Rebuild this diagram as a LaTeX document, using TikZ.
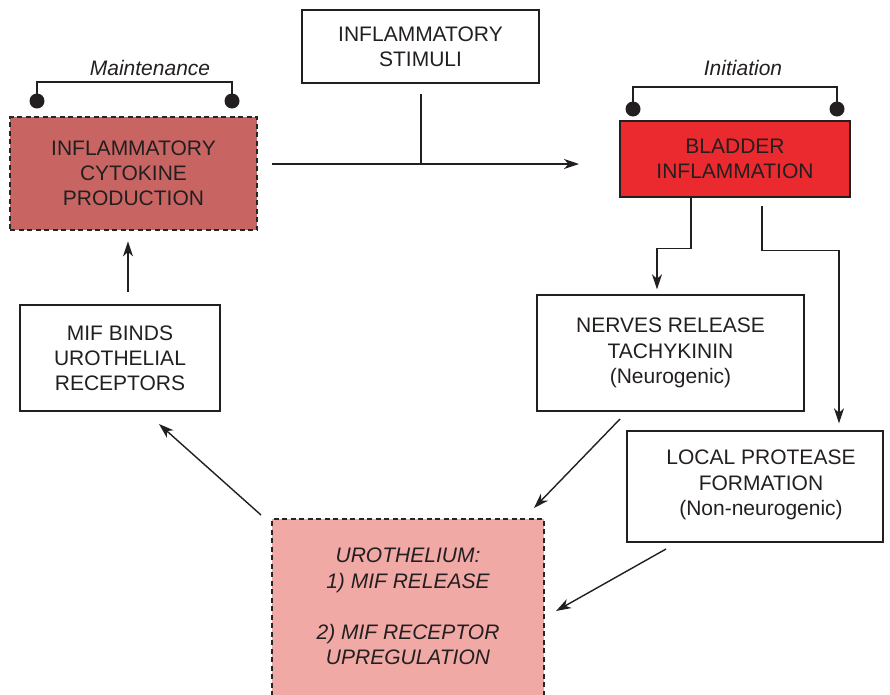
\documentclass[tikz,border=0pt]{standalone}
\usepackage{fontspec}
\setmainfont{Liberation Sans}
\usetikzlibrary{arrows.meta}
\definecolor{txt}{HTML}{231F20}
\definecolor{cytofill}{HTML}{C86563}
\definecolor{bladfill}{HTML}{EB2A2F}
\definecolor{urofill}{HTML}{F1A9A6}
\begin{document}
\begin{tikzpicture}[x=1pt,y=-1pt,
  lbl/.style={text=txt, align=center, inner sep=0pt, font=\fontsize{21}{25.2}\selectfont},
  box/.style={lbl, draw=txt, line width=1.4pt},
  dbox/.style={box, draw=black!85, line width=2.8pt, dash pattern=on 5pt off 3.5pt},
  conn/.style={draw=txt, line width=1.4pt},
  arr/.style={conn, -{Stealth[length=15pt,width=10pt,inset=4.5pt]}},
  blob/.style={circle, fill=txt, minimum size=15pt, inner sep=0pt}]
\useasboundingbox (0,0) rectangle (890,694);
\clip (0,0) rectangle (890,694);

% boxes
\node[box, minimum width=237pt, minimum height=73pt] (stim) at (420.5,46.5) {INFLAMMATORY\\STIMULI};
\node[dbox, fill=cytofill, minimum width=247pt, minimum height=113pt] (cyto) at (133.5,173.5) {INFLAMMATORY\\CYTOKINE\\PRODUCTION};
\node[box, fill=bladfill, minimum width=230pt, minimum height=76pt] (blad) at (735,159) {BLADDER\\INFLAMMATION};
\node[box, minimum width=267pt, minimum height=116pt] (nerv) at (670.5,353) {NERVES RELEASE\\TACHYKININ\\(Neurogenic)};
\node[box, minimum width=256pt, minimum height=111pt] (prot) at (755,486.5) {};
\node[lbl] (prottext) at (761,485) {LOCAL PROTEASE\\FORMATION\\(Non-neurogenic)};
\node[box, minimum width=200pt, minimum height=106pt] (mif) at (120,358) {MIF BINDS\\UROTHELIAL\\RECEPTORS};
\node[dbox, fill=urofill, minimum width=272pt, minimum height=185pt] (uro) at (408,611.5) {};
\node[lbl, font=\fontsize{21}{25.2}\selectfont\itshape] (urotext) at (408,606.5) {UROTHELIUM:\\1) MIF RELEASE\\[26pt]2) MIF RECEPTOR\\UPREGULATION};

% brackets
\node[blob] (m1) at (37,101) {};
\node[blob] (m2) at (232,101) {};
\draw[conn] (m1.center) -- ++(0,-19) -| (m2.center);
\node[lbl, font=\fontsize{21}{25.2}\selectfont\itshape] (mlab) at (150,68) {Maintenance};
\node[blob] (i1) at (633,109) {};
\node[blob] (i2) at (837,109) {};
\draw[conn] (i1.center) -- ++(0,-22) -| (i2.center);
\node[lbl, font=\fontsize{21}{25.2}\selectfont\itshape] (ilab) at (743,68) {Initiation};

% connectors
\coordinate (hstart) at (272,164);
\coordinate (hend) at (579,164);
\coordinate (sv) at (421,94);
\draw[arr] (hstart) -- (hend);
\draw[conn] (sv) -- (sv |- hstart);

\draw[arr, shorten >=5pt] ([xshift=-44pt]blad.south) -- ++(0,51) -| ([xshift=-13.5pt]nerv.north);
\draw[arr, shorten >=7pt] ([xshift=27pt,yshift=-8pt]blad.south) -- ++(0,45) -| ([xshift=84pt]prot.north);

\coordinate (n1) at (620,419);
\coordinate (n2) at (534,508);
\draw[arr] (n1) -- (n2);
\coordinate (p1) at (666,549);
\coordinate (p2) at (556,611);
\draw[arr] (p1) -- (p2);
\coordinate (u1) at (261,515);
\coordinate (u2) at (159,424);
\draw[arr] (u1) -- (u2);
\coordinate (c1) at (128,292);
\draw[arr, shorten >=10pt] (c1) -- (c1 |- cyto.south);
\end{tikzpicture}
\end{document}
